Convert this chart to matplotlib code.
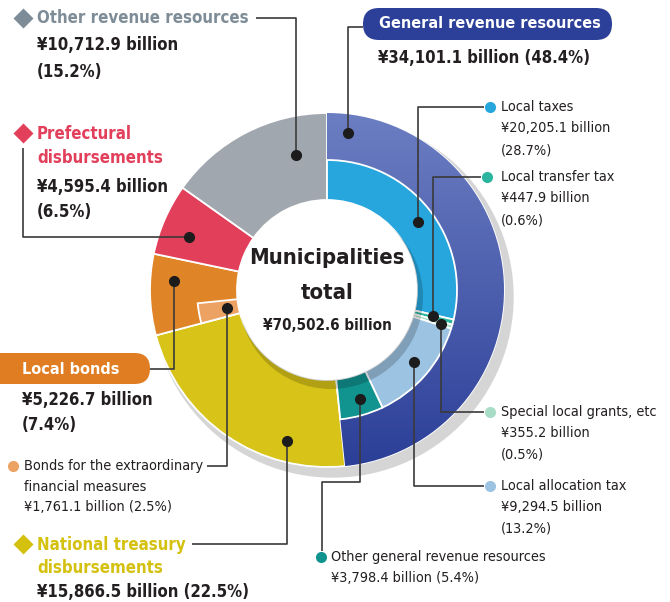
import numpy as np
import matplotlib
matplotlib.use("Agg")
from matplotlib import pyplot as plt
from matplotlib.patches import Circle, FancyBboxPatch

# DejaVu Sans Condensed is the closest narrow face available
plt.rcParams['font.family'] = ['DejaVu Sans']
plt.rcParams['font.stretch'] = 'condensed'

# data (billion yen)
outer_labels = ["General revenue resources", "National treasury disbursements",
                "Local bonds", "Prefectural disbursements", "Other revenue resources"]
outer_values = [34101.1, 15866.5, 5226.7, 4595.4, 10712.9]
outer_shares = [48.4, 22.5, 7.4, 6.5, 15.2]
outer_colors = ["#4659a8", "#d8c418", "#e08428", "#e23f5b", "#a1a7ae"]

general_labels = ["Local taxes", "Local transfer tax", "Special local grants, etc",
                  "Local allocation tax", "Other general revenue resources"]
general_values = [20205.1, 447.9, 355.2, 9294.5, 3798.4]
general_shares = [28.7, 0.6, 0.5, 13.2, 5.4]
general_colors = ["#27a6de", "#2bb59e", "#a9dcc6", "#9cc3e1", "#11938f"]

bond_label = "Bonds for the extraordinary financial measures"
bond_value = 1761.1
bond_share = 2.5
bond_color = "#eca263"

total = 70502.6

W, H = 670, 602
fig = plt.figure(figsize=(W / 100, H / 100), dpi=100)
ax = fig.add_axes([0, 0, 1, 1])
renderer = fig.canvas.get_renderer()

def Y(y):
    return H - y

def amount(v):
    return "¥{:,.1f} billion".format(v)

# font size giving a string a wanted pixel width
def size_for(s, width, weight="normal"):
    t = fig.text(0, 0, s, fontsize=10, fontweight=weight)
    w = t.get_window_extent(renderer).width
    t.remove()
    return 10 * width / w

FS_CENTER = size_for("Municipalities", 154, "bold")
FS_CENTER2 = size_for("¥70,502.6 billion", 128, "bold")
FS_HEAD = size_for("Other revenue resources", 212, "bold")
FS_VALUE = size_for("¥15,866.5 billion (22.5%)", 212, "bold")
FS_BOX = size_for("General revenue resources", 221, "bold")
FS_SMALL = size_for("Special local grants, etc", 155)

cx, cy = 327, Y(290)
R_OUT, R_MID, R_IN = 177, 130, 90
DARK = "#231f20"

# shadow of the ring
ax.add_patch(Circle((cx + 6, cy - 7), R_OUT + 3, color="#d5d5d5", zorder=1))

# outer ring
wedges, _ = ax.pie(outer_values, radius=R_OUT, center=(cx, cy), startangle=90,
                   counterclock=False, colors=outer_colors,
                   wedgeprops=dict(width=R_OUT - R_IN, edgecolor="white", linewidth=1.3))
for w in wedges:
    w.set_zorder(2)

# gradient on general revenue ring
grad = np.linspace(0, 1, 256).reshape(-1, 1)
cmap = matplotlib.colors.LinearSegmentedColormap.from_list("g", ["#2c3f98", "#6c7ec2"])
im = ax.imshow(grad, cmap=cmap, extent=(cx - R_OUT, cx + R_OUT, cy - R_OUT, cy + R_OUT),
               origin="lower", aspect="auto", zorder=2.5)
im.set_clip_path(wedges[0])

# inner ring (sub items)
inner_values = general_values + [outer_values[1], bond_value, outer_values[2] - bond_value,
                                 outer_values[3], outer_values[4]]
inner_colors = general_colors + ["none", bond_color, "none", "none", "none"]
iw, _ = ax.pie(inner_values, radius=R_MID, center=(cx, cy), startangle=90,
               counterclock=False, colors=inner_colors,
               wedgeprops=dict(width=R_MID - R_IN, edgecolor="white", linewidth=1.3))
for i, w in enumerate(iw):
    w.set_zorder(3)
    if inner_colors[i] == "none":
        w.set_visible(False)

# shadow of the center hole, then the hole
ax.add_patch(Circle((cx + 4, cy - 7), R_IN + 2, color="black", alpha=0.18, lw=0, zorder=4))
ax.add_patch(Circle((cx, cy), R_IN, color="white", lw=0, zorder=5))

# center text
ax.text(cx, Y(258), "Municipalities", ha="center", va="center", fontsize=FS_CENTER,
        fontweight="bold", color=DARK, zorder=6)
ax.text(cx, Y(293), "total", ha="center", va="center", fontsize=FS_CENTER,
        fontweight="bold", color=DARK, zorder=6)
ax.text(cx, Y(326), amount(total), ha="center", va="center",
        fontsize=FS_CENTER2, fontweight="bold", color=DARK, zorder=6)

def leader(pts):
    xs = [p[0] for p in pts]
    ys = [Y(p[1]) for p in pts]
    ax.plot(xs, ys, color="#3a3a3a", lw=1.2, zorder=7, solid_capstyle="butt")
    ax.plot(xs[0], ys[0], "o", color="#1c1c1c", ms=7, zorder=8)

def head(x, y, s, color):
    ax.text(x, Y(y), s, color=color, fontsize=FS_HEAD, fontweight="bold", va="center")

def value(x, y, s):
    ax.text(x, Y(y), s, color=DARK, fontsize=FS_VALUE, fontweight="bold", va="center")

def small(x, y, s):
    ax.text(x, Y(y), s, color=DARK, fontsize=FS_SMALL, va="center")

# ---- left side labels
# other revenue resources
ax.plot(23, Y(18), "D", color="#7d8c96", ms=10, mec="none")
head(37, 18, outer_labels[4], "#7d8c96")
value(37, 45, amount(outer_values[4]))
value(37, 72, "({}%)".format(outer_shares[4]))
leader([(296, 155), (296, 18), (256, 18)])

# prefectural disbursements
ax.plot(23, Y(133), "D", color="#e23f5b", ms=10, mec="none")
head(37, 134, "Prefectural", "#e23f5b")
head(37, 158, "disbursements", "#e23f5b")
value(37, 187, amount(outer_values[3]))
value(37, 212, "({}%)".format(outer_shares[3]))
leader([(189, 237), (23, 237), (23, 148)])

# local bonds
ax.add_patch(FancyBboxPatch((-20, Y(384)), 170, 31, boxstyle="round,pad=0,rounding_size=15.5",
                            fc="#e07d22", ec="none", zorder=6))
ax.text(22, Y(369), outer_labels[2], color="white", fontsize=FS_BOX, fontweight="bold",
        va="center", zorder=7)
value(22, 400, amount(outer_values[2]))
value(22, 425, "({}%)".format(outer_shares[2]))
leader([(174, 281), (174, 369), (150, 369)])

# bonds for extraordinary
ax.plot(13, Y(466), "o", color=bond_color, ms=8, mec="none")
small(24, 466, "Bonds for the extraordinary")
small(24, 487, "financial measures")
small(24, 507, "{} ({}%)".format(amount(bond_value), bond_share))
leader([(227, 308), (227, 466), (207, 466)])

# national treasury
ax.plot(23, Y(544), "D", color="#d4c10f", ms=10, mec="none")
head(37, 545, "National treasury", "#d4c10f")
head(37, 568, "disbursements", "#d4c10f")
value(37, 592, "{} ({}%)".format(amount(outer_values[1]), outer_shares[1]))
leader([(287, 441), (287, 544), (192, 544)])

# ---- right side labels
ax.add_patch(FancyBboxPatch((363, Y(40)), 249, 32, boxstyle="round,pad=0,rounding_size=16",
                            fc="#2c409a", ec="none", zorder=6))
ax.text(379, Y(24), outer_labels[0], color="white", fontsize=FS_BOX, fontweight="bold",
        va="center", zorder=7)
value(378, 58, "{} ({}%)".format(amount(outer_values[0]), outer_shares[0]))
leader([(348, 133), (348, 27), (363, 27)])

right_y = [107, 177, 412, 486]
right_marker_x = [490, 487, 490, 490]
right_paths = [
    [(418, 222), (418, 107), (484, 107)],
    [(433, 316), (433, 177), (481, 177)],
    [(441, 324), (441, 412), (484, 412)],
    [(414, 362), (414, 486), (484, 486)],
]
for i in range(4):
    y0 = right_y[i]
    leader(right_paths[i])
    ax.plot(right_marker_x[i], Y(y0), "o", color=general_colors[i], ms=8, mec="none", zorder=8)
    small(501, y0, general_labels[i])
    small(501, y0 + 21, amount(general_values[i]))
    small(501, y0 + 43, "({}%)".format(general_shares[i]))

# other general revenue resources
leader([(360, 399), (360, 482), (322, 482), (322, 551)])
ax.plot(321, Y(557), "o", color=general_colors[4], ms=8, mec="none", zorder=8)
small(331, 557, general_labels[4])
small(331, 578, "{} ({}%)".format(amount(general_values[4]), general_shares[4]))

ax.set_xlim(0, W)
ax.set_ylim(0, H)
ax.set_aspect("equal")
ax.axis("off")

fig.savefig("out.png", dpi=100)
